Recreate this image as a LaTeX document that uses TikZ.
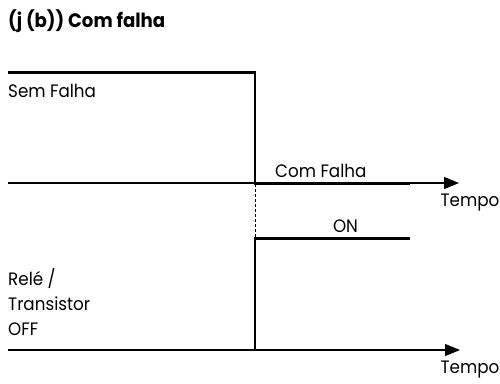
\documentclass[tikz,border=0pt]{standalone}
\usepackage{fontspec}
\setmainfont[FakeStretch=0.93]{Poppins}
\usetikzlibrary{arrows.meta}

\begin{document}
\begin{tikzpicture}[x=1pt, y=-1pt, every node/.style={font=\fontsize{18}{25}\selectfont, inner sep=0pt}, >={Triangle[length=15pt, width=12pt]}, sinal/.style={line width=2.6pt, line join=miter}, eixo/.style={line width=1.2pt}]
	\useasboundingbox (0,0) rectangle (500,383);
	\coordinate (s0) at (8,72.5);
	\coordinate (s1) at (255,72.5);
	\coordinate (s2) at (255,184);
	\coordinate (s3) at (410,184);
	\coordinate (r0) at (8,350);
	\coordinate (r1) at (255,350);
	\coordinate (r2) at (255,238.5);
	\coordinate (r3) at (410,238.5);
	\coordinate (e0) at (8,183);
	\coordinate (e1) at (459,183);
	\coordinate (f1) at (460,350);
	\draw[eixo, ->] (e0) -- (e1);
	\draw[eixo, ->] (r1) -- (f1);
	\draw[line width=1pt, dash pattern=on 3pt off 2pt] (s2) -- (r2);
	\draw[sinal] (s0) -- (s1) -- (s2) -- (s3);
	\draw[sinal] (r0) -- (r1) -- (r2) -- (r3);
	\node[anchor=base west, font=\fontsize{19.5}{22}\selectfont\bfseries] (titulo) at (8,27) {(j (b)) Com falha};
	\node[anchor=base west] (semfalha) at (8,97) {Sem Falha};
	\node[anchor=base west] (comfalha) at (275,177) {Com Falha};
	\node[anchor=base] (on) at (345.5,232) {ON};
	\node[anchor=base east] (tempo1) at (499.5,206) {Tempo};
	\node[anchor=base east] (tempo2) at (499.5,373) {Tempo};
	\node[anchor=north west, align=left] (rele) at (8,268) {Relé /\\Transistor\\OFF};
\end{tikzpicture}
\end{document}
